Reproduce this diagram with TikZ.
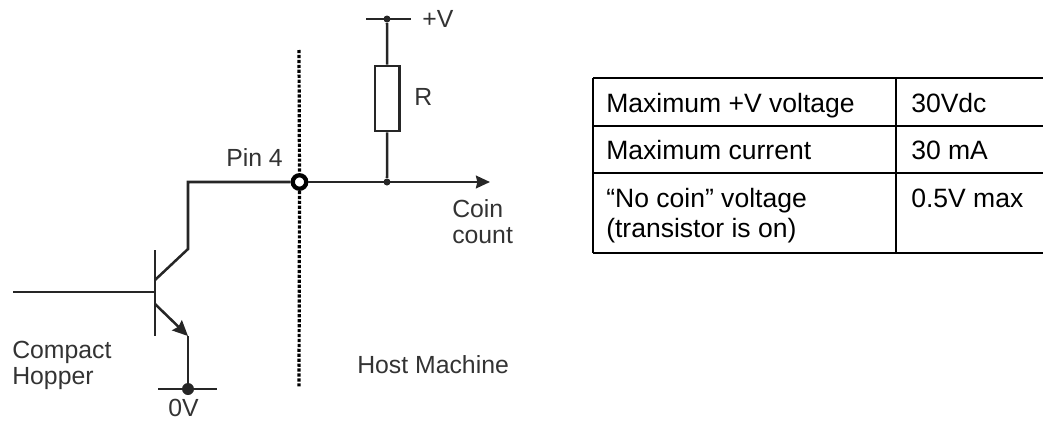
\documentclass[tikz,border=0pt]{standalone}
\usepackage{fontspec}
\setmainfont{Liberation Sans}
\usetikzlibrary{arrows.meta}
\definecolor{wirecol}{HTML}{262626}
\definecolor{labcol}{HTML}{333333}
\tikzset{
 wire/.style={draw=wirecol, line width=1.9pt},
 dot/.style={circle, fill=wirecol, inner sep=0pt, minimum size=#1},
 lab/.style={anchor=base west, inner sep=0pt, text=labcol,
   font=\fontsize{18.6}{19.5}\selectfont},
 cell/.style={anchor=base west, inner sep=0pt, text=black,
   font=\fontsize{19.9}{22.5}\selectfont},
 rule/.style={draw=black, line width=1.6pt}
}
\begin{document}
\begin{tikzpicture}[x=0.75pt, y=-0.75pt]
 \useasboundingbox (0,0) rectangle (1043,421);
 \coordinate (basein) at (13,292);
 \coordinate (basept) at (155,292);
 \coordinate (bartop) at (155,250);
 \coordinate (barbot) at (155,336);
 \coordinate (colin) at (155,280);
 \coordinate (colout) at (188,249);
 \coordinate (corner) at (188,182);
 \coordinate (emin) at (155,304);
 \coordinate (emout) at (188,336);
 \coordinate (gndl) at (158,389);
 \coordinate (gndr) at (217,389);
 \coordinate (rtopl) at (366,19);
 \coordinate (rtopr) at (411,19);
 \coordinate (coinend) at (490,182);
 \coordinate (cuttop) at (299,50);
 \coordinate (cutbot) at (299,388);
 \node[dot=12*0.75pt] (gnd) at (188,389) {};
 \node[dot=7*0.75pt] (vdot) at (387,19) {};
 \node[dot=7*0.75pt] (join) at (387,182) {};
 \node[draw=wirecol, line width=1.9pt, minimum width=24.5*0.75pt, minimum height=65*0.75pt, inner sep=0pt] (resistor) at (387.2,98.5) {};
 \node[circle, draw=black, line width=3.2pt, fill=white, minimum size=13.5*0.75pt, inner sep=0pt] (pin) at (299.5,182) {};
%
 \draw[wire] (basein) -- (basept);
 \draw[wire] (bartop) -- (barbot);
 \draw[wire] (colin) -- (colout) -- (corner) -- (pin);
 \draw[wire, -{Stealth[length=11.5pt, width=10.5pt, inset=1.5pt]}] (emin) -- (emout);
 \draw[wire] (emout) -- (gnd);
 \draw[wire] (gndl) -- (gndr);
 \draw[wire] (rtopl) -- (rtopr);
 \draw[wire] (vdot) -- (resistor);
 \draw[wire] (resistor) -- (join);
 \draw[wire, -{Stealth[length=10.5pt, width=9.5pt, inset=1pt]}] (pin) -- (coinend);
 \draw[draw=black, line width=2.4pt, dash pattern=on 2.4pt off 1.3pt] (cuttop) -- (pin);
 \draw[draw=black, line width=2.4pt, dash pattern=on 2.4pt off 1.3pt] (pin) -- (cutbot);
%
 \node[lab] (vlab) at (422,27) {+V};
 \node[lab] (rlab) at (414,105) {R};
 \node[lab] (pinlab) at (226,166) {Pin 4};
 \node[lab, align=left] (coinlab) at (452,243) {Coin\\count};
 \node[lab, align=left] (hoplab) at (12,384) {Compact\\Hopper};
 \node[lab] (zerolab) at (168,416) {0V};
 \node[lab] (hostlab) at (357,373) {Host Machine};
%
 \coordinate (tl) at (593,78);
 \coordinate (tm) at (896,78);
 \coordinate (tr) at (1043,78);
 \coordinate (al) at (593,126);
 \coordinate (ar) at (1043,126);
 \coordinate (bl) at (593,173);
 \coordinate (br) at (1043,173);
 \coordinate (cl) at (593,253);
 \coordinate (cm) at (896,253);
 \coordinate (cr) at (1043,253);
 \draw[rule] (tl) -- (tr);
 \draw[rule] (al) -- (ar);
 \draw[rule] (bl) -- (br);
 \draw[rule] (cl) -- (cr);
 \draw[rule] (tl) -- (cl);
 \draw[rule] (tm) -- (cm);
 \node[cell] (maxv) at (606,112) {Maximum +V voltage};
 \node[cell] (maxvval) at (911,112) {30Vdc};
 \node[cell] (maxi) at (606,159) {Maximum current};
 \node[cell] (maxival) at (911,159) {30 mA};
 \node[cell, align=left] (nocoin) at (606,237) {“No coin” voltage\\(transistor is on)};
 \node[cell] (nocoinval) at (911,207) {0.5V max};
\end{tikzpicture}
\end{document}
